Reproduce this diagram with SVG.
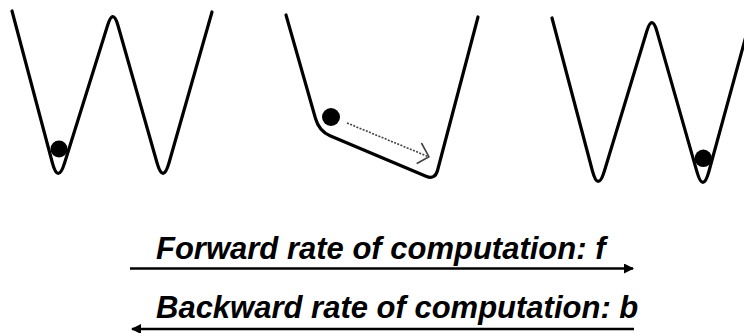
<svg xmlns="http://www.w3.org/2000/svg" width="744" height="333" viewBox="0 0 744 333">
<style>
.well{fill:none;stroke:#000;stroke-width:3.2;stroke-linecap:round;stroke-linejoin:round}
.ball{fill:#000}
.rate{stroke:#000;stroke-width:2.5;fill:none}
.lbl{font-family:"Liberation Sans",Arial,sans-serif;font-size:31px;font-weight:bold;font-style:italic;fill:#000}
.move{stroke:#444;stroke-width:1.6;fill:none;stroke-dasharray:2 1.4}
.chev{stroke:#444;stroke-width:1.6;fill:none;stroke-linecap:round;stroke-linejoin:round}
</style>
<defs>
<marker id="ah" viewBox="0 0 10 10" refX="9" refY="5" markerUnits="userSpaceOnUse" markerWidth="11" markerHeight="10" orient="auto-start-reverse">
<path d="M0,0 L10,5 L0,10 Z" fill="#000"/>
</marker>
</defs>
<rect width="744" height="333" fill="#fff"/>
<g id="well-left">
<path class="well" d="M12,11 L52.35,162.75 Q58,184 64.56,163 L107.64,25.2 Q113,8 117.92,25.3 L157,162.8 Q163,184 169.03,162.8 L212,12"/>
<circle class="ball" cx="59" cy="149" r="8.5"/>
</g>
<g id="well-middle">
<path class="well" d="M286,15 L315.5,118.5 Q319,131 330,135.7 L426,176.2 Q435,180 437.5,170.5 L478,17"/>
<circle class="ball" cx="331" cy="117" r="9"/>
</g>
<g id="well-right">
<path class="well" d="M552,18 L592.38,170.73 Q598,192 604.39,170.95 L646.77,31.23 Q652,14 656.93,31.32 L696.97,171.84 Q703,193 708.81,171.77 L752,14"/>
<circle class="ball" cx="703.3" cy="158.3" r="8.7"/>
</g>
<g id="connectors">
<line class="move" x1="347" y1="123" x2="428" y2="156.5"/>
<polyline class="chev" points="421.7,143.5 429,156.8 417.3,163.3"/>
<line class="rate" x1="130" y1="268.5" x2="633" y2="268.5" marker-end="url(#ah)"/>
<line class="rate" x1="634" y1="329" x2="132" y2="329" marker-end="url(#ah)"/>
</g>
<g id="labels">
<text class="lbl" x="156" y="259">Forward rate of computation: f</text>
<text class="lbl" x="156" y="318">Backward rate of computation: b</text>
</g>
</svg>
